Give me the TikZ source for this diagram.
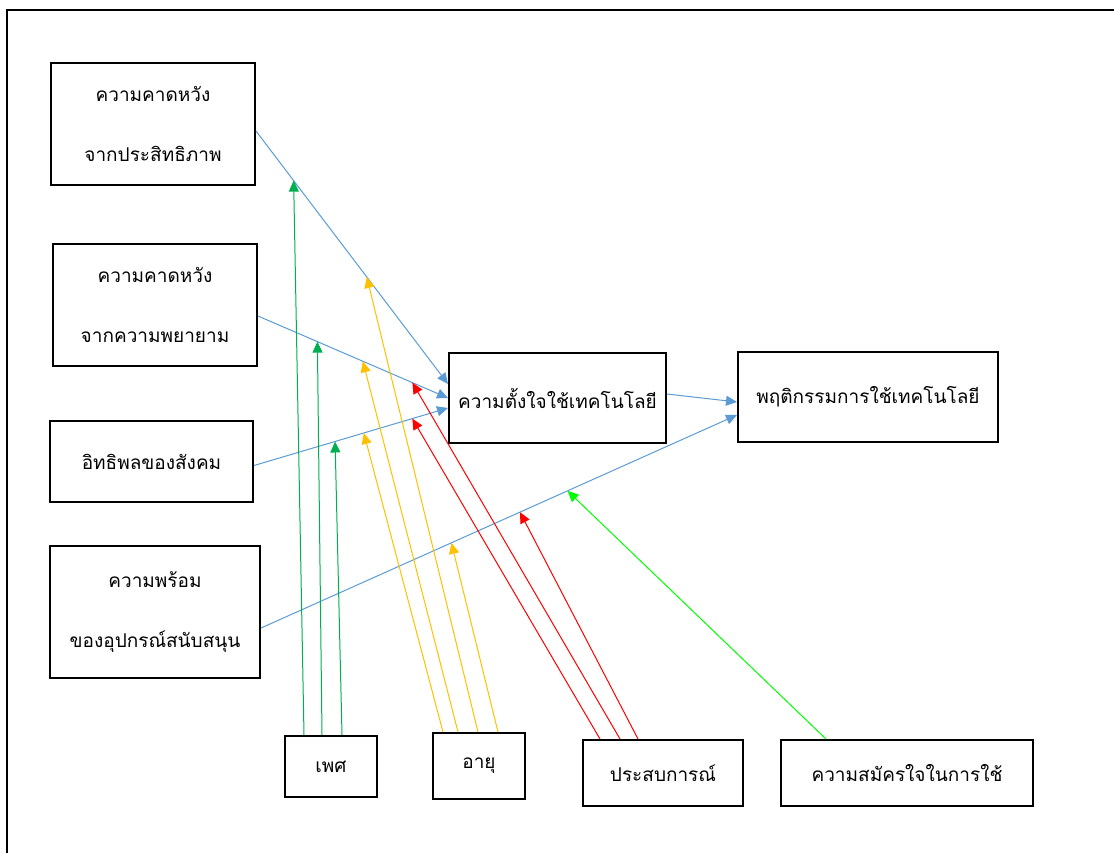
\documentclass[tikz,border=0pt]{standalone}
\usepackage{fontspec}
\newfontfamily\thaifont[Script=Thai]{Loma}
\usetikzlibrary{arrows.meta,calc}

\definecolor{lineblue}{HTML}{5B9BD5}
\definecolor{sexgreen}{HTML}{00B050}
\definecolor{ageyellow}{HTML}{FFC000}
\definecolor{expred}{HTML}{FF0000}
\definecolor{volgreen}{HTML}{00FF00}

\tikzset{
  box/.style={draw,line width=2pt,rectangle,align=center,inner sep=0pt,
    font=\thaifont\fontsize{19}{60}\selectfont},
  link/.style={-{Triangle[length=11pt,width=10pt]},line width=1pt},
}

\begin{document}
\begin{tikzpicture}[x=1pt,y=-1pt]
    \useasboundingbox (0,0) rectangle (1114,852);
    % marco
    \draw[line width=2.5pt] (7,860) -- (7,10) -- (1120,10);

    % cajas de la izquierda
    \node[box,minimum width=204pt,minimum height=122pt] (pe) at (153,124) {ความคาดหวัง\\จากประสิทธิภาพ};
    \node[box,minimum width=204pt,minimum height=122pt] (ee) at (155,305) {ความคาดหวัง\\จากความพยายาม};
    \node[box,minimum width=203pt,minimum height=81pt] (si) at (151.5,461.5) {อิทธิพลของสังคม};
    \node[box,minimum width=210pt,minimum height=132pt] (fc) at (155,612) {ความพร้อม\\ของอุปกรณ์สนับสนุน};

    % cajas del centro
    \node[box,minimum width=217pt,minimum height=90pt] (bi) at (557.5,398) {ความตั้งใจใช้เทคโนโลยี};
    \node[box,minimum width=260pt,minimum height=90pt] (ub) at (868,397) {พฤติกรรมการใช้เทคโนโลยี};

    % cajas de abajo
    \node[box,minimum width=92pt,minimum height=61pt] (gender) at (331,766.5) {เพศ};
    \node[box,minimum width=92pt,minimum height=66pt] (age) at (479,766) {อายุ};
    \node[box,minimum width=160pt,minimum height=66pt] (exp) at (663,773) {ประสบการณ์};
    \node[box,minimum width=252pt,minimum height=66pt] (vol) at (907,773) {ความสมัครใจในการใช้};

    % flechas azules
    \draw[link,lineblue] ($(pe.east)+(0,7)$) -- coordinate[pos=0.196] (pe1) coordinate[pos=0.577] (pe2) ($(bi.west)+(0,-14)$);
    \draw[link,lineblue] ($(ee.east)+(0,11)$) -- coordinate[pos=0.3125] (ee1) coordinate[pos=0.552] (ee2) coordinate[pos=0.8125] (ee3) (bi.west);
    \draw[link,lineblue] ($(si.east)+(0,4)$) -- coordinate[pos=0.418] (si1) coordinate[pos=0.566] (si2) coordinate[pos=0.816] (si3) ($(bi.west)+(0,10)$);
    \draw[link,lineblue] ($(bi.east)+(0,-4)$) -- ($(ub.west)+(0,5)$);
    \draw[link,lineblue] ($(fc.east)+(0,16)$) -- coordinate[pos=0.40] (fc1) coordinate[pos=0.544] (fc2) coordinate[pos=0.644] (fc3) ($(ub.west)+(0,18)$);

    % flechas de sexo
    \draw[link,sexgreen] ($(gender.north)+(-27,0)$) -- (pe1);
    \draw[link,sexgreen] ($(gender.north)+(-9,0)$) -- (ee1);
    \draw[link,sexgreen] ($(gender.north)+(11,0)$) -- (si1);

    % flechas de edad
    \draw[link,ageyellow] ($(age.north)+(-36,0)$) -- (si2);
    \draw[link,ageyellow] ($(age.north)+(-21,0)$) -- (ee2);
    \draw[link,ageyellow] ($(age.north)+(-1,0)$) -- (pe2);
    \draw[link,ageyellow] ($(age.north)+(19,0)$) -- (fc1);

    % flechas de experiencia
    \draw[link,expred] ($(exp.north)+(-63,0)$) -- (si3);
    \draw[link,expred] ($(exp.north)+(-43,0)$) -- (ee3);
    \draw[link,expred] ($(exp.north)+(-25,0)$) -- (fc2);

    % flecha de voluntad
    \draw[link,volgreen] ($(vol.north)+(-81,0)$) -- (fc3);
\end{tikzpicture}
\end{document}
